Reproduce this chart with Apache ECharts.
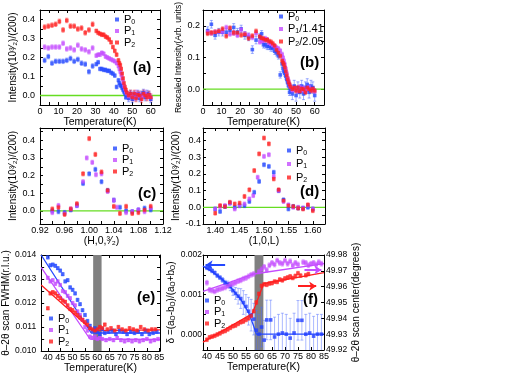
<!DOCTYPE html>
<html><head><meta charset="utf-8">
<script src="https://cdn.jsdelivr.net/npm/echarts@6/dist/echarts.min.js"></script>
<style>html,body{margin:0;padding:0;background:#fff}#c{width:512px;height:376px}</style>
</head><body><div id="c"></div>
<script>
const FONT = "'Liberation Sans',Arial,sans-serif";
const BLUE = '#2448ff', VIOLET = '#c44cff', RED = '#ff1f1f', GREEN = '#66dd22';

// ---------- panel (a) / (b): intensity vs temperature ----------
const aT = [2.5,4.5,6.5,8.5,10.5,12.5,14.5,16.5,18.5,20.5,22.5,24.5,26.5,28.5,
  30.5,31.5,32.5,33.5,34.5,35.5,36.5,37.5,38.5,39.5,40.5,41.5,42.5,
  43,43.5,44,44.5,45,45.5,46,46.5,47,
  48,49,50,51,52,53,54,55,56,57,58,59,60];
const aP0 = [0.185,0.205,0.17,0.18,0.18,0.18,0.185,0.195,0.18,0.19,0.17,0.165,0.125,0.155,
  0.165,0.175,0.14,0.14,0.135,0.135,0.13,0.13,0.12,0.115,0.105,0.045,0.08,
  0.065,0.055,0.05,0.04,0.03,0.02,0.01,-0.01,0.0,
  -0.015,0.01,-0.02,0.005,-0.01,0.01,-0.015,0.005,0.015,-0.01,0.01,0.005,-0.02];
const aP1 = [0.255,0.25,0.255,0.255,0.255,0.275,0.245,0.25,0.24,0.265,0.245,0.24,0.23,0.25,
  0.21,0.215,0.215,0.225,0.22,0.205,0.2,0.195,0.19,0.185,0.18,0.17,0.155,
  0.14,0.125,0.11,0.09,0.07,0.05,0.035,0.02,0.01,
  -0.005,0.005,0.0,-0.01,0.01,-0.005,0.005,-0.01,0.0,0.01,-0.005,0.0,-0.01];
const aP2 = [0.36,0.365,0.37,0.375,0.39,0.345,0.395,0.365,0.365,0.35,0.355,0.33,0.345,0.375,
  0.34,0.33,0.325,0.32,0.32,0.31,0.305,0.295,0.28,0.255,0.235,0.215,0.185,
  0.17,0.16,0.14,0.115,0.09,0.065,0.045,0.03,0.015,
  0.0,0.01,-0.01,0.01,-0.015,0.005,0.0,-0.02,0.01,0.0,-0.01,0.005,-0.01];
const aErr = [0.012,0.012,0.012,0.012,0.012,0.012,0.012,0.012,0.012,0.012,0.012,0.012,0.012,0.012,
  0.01,0.01,0.01,0.01,0.01,0.01,0.01,0.01,0.01,0.01,0.01,0.01,0.01,
  0.01,0.01,0.01,0.01,0.01,0.01,0.01,0.01,0.01,
  0.018,0.018,0.018,0.018,0.018,0.018,0.018,0.018,0.018,0.018,0.018,0.018,0.018];
const bP1 = [0.181,0.177,0.181,0.181,0.181,0.195,0.174,0.177,0.170,0.188,0.174,0.170,0.163,0.177,
  0.149,0.152,0.152,0.160,0.156,0.145,0.142,0.138,0.135,0.131,0.128,0.121,0.110,
  0.099,0.089,0.078,0.064,0.050,0.035,0.025,0.014,0.007,
  -0.004,0.004,0.0,-0.007,0.007,-0.004,0.004,-0.007,0.0,0.007,-0.004,0.0,-0.007];
const bP2 = [0.176,0.178,0.180,0.183,0.190,0.168,0.193,0.178,0.178,0.171,0.173,0.161,0.168,0.183,
  0.166,0.161,0.159,0.156,0.156,0.151,0.149,0.144,0.137,0.124,0.115,0.105,0.090,
  0.083,0.078,0.068,0.056,0.044,0.032,0.022,0.015,0.007,
  0.0,0.005,-0.005,0.005,-0.007,0.002,0.0,-0.01,0.005,0.0,-0.005,0.002,-0.005];
const bErr = 0.007;

// ---------- panel (c): (H,0,3/2) scan ----------
const cP0 = [[0.94,0.0],[0.95,-0.005],[0.96,-0.01],[0.97,0.005],[0.98,0.03],[0.99,0.155],[1.00,0.21],[1.01,0.235],[1.02,0.165],[1.03,0.115],[1.04,0.06],[1.05,0.02],[1.06,0.0],[1.07,-0.005],[1.08,0.005],[1.09,0.015],[1.10,0.005]];
const cP1 = [[0.94,-0.01],[0.95,0.03],[0.96,-0.015],[0.97,0.01],[0.98,0.03],[0.99,0.165],[0.996,0.30],[1.005,0.275],[1.011,0.205],[1.02,0.21],[1.03,0.11],[1.04,0.06],[1.045,0.02],[1.06,-0.01],[1.07,-0.005],[1.08,0.005],[1.09,-0.005],[1.10,0.015]];
const cP2 = [[0.94,0.01],[0.95,0.02],[0.96,-0.02],[0.97,0.01],[0.98,0.04],[0.99,0.21],[1.00,0.41],[1.01,0.32],[1.02,0.22],[1.03,0.115],[1.04,0.025],[1.05,-0.015],[1.06,0.025],[1.07,-0.015],[1.08,-0.01],[1.09,0.005],[1.10,0.025]];
const cErr = 0.012;

// ---------- panel (d): (1,0,L) scan ----------
const dP0 = [[1.40,-0.01],[1.41,-0.025],[1.42,0.005],[1.43,0.025],[1.44,0.0],[1.45,0.01],[1.46,0.01],[1.47,0.035],[1.48,0.09],[1.49,0.155],[1.50,0.255],[1.51,0.245],[1.52,0.21],[1.53,0.1],[1.54,0.045],[1.55,-0.01],[1.56,0.005],[1.57,-0.005],[1.58,-0.005],[1.59,0.0],[1.60,-0.01]];
const dP1 = [[1.40,-0.01],[1.41,0.005],[1.42,0.01],[1.43,0.025],[1.44,-0.01],[1.45,0.01],[1.46,0.02],[1.47,0.05],[1.478,0.07],[1.487,0.18],[1.50,0.305],[1.51,0.315],[1.52,0.185],[1.53,0.1],[1.54,0.035],[1.55,0.015],[1.56,0.0],[1.57,0.0],[1.58,-0.005],[1.59,0.01],[1.60,-0.01]];
const dP2 = [[1.40,-0.035],[1.41,0.01],[1.42,0.005],[1.43,0.03],[1.44,0.02],[1.45,0.025],[1.46,0.065],[1.47,0.105],[1.48,0.22],[1.49,0.32],[1.50,0.415],[1.51,0.38],[1.52,0.17],[1.53,0.105],[1.54,0.04],[1.55,0.01],[1.56,0.005],[1.57,-0.005],[1.58,-0.01],[1.59,0.015],[1.60,-0.02]];
const dErr = 0.012;

// ---------- panel (e): theta-2theta FWHM ----------
const eP0 = [[40,0.0139],[41,0.01357],[42,0.0136],[43,0.01355],[44,0.01345],[45,0.01335],[46,0.0132],[47,0.0129],[48,0.01295],[49,0.01265],[50,0.01255],[51,0.0124],[52,0.01213],[53,0.01195],[54,0.0117],[55,0.0115],[56,0.01125],[57,0.01105],[58,0.01085],[59,0.01095],[60,0.0108],[61,0.0107],[62,0.0109],[63,0.01075],[64.5,0.0108],[66,0.01085],[67.5,0.0107],[69,0.01085],[70.5,0.0108],[72,0.0107],[73.5,0.0108],[75,0.01075],[76.5,0.0108],[78,0.0107],[79.5,0.01085],[81,0.0107],[82.5,0.01075],[84,0.0108]];
const eP1 = [[40,0.01305],[41,0.0129],[42,0.01295],[43,0.0128],[44,0.0129],[45,0.01275],[46,0.0125],[47,0.01245],[48,0.0123],[49,0.0122],[50,0.012],[51,0.0119],[52,0.01165],[53,0.0115],[54,0.0113],[55,0.011],[56,0.01085],[57,0.0106],[58,0.01055],[59,0.0106],[60,0.0105],[61,0.01055],[62,0.0105],[63.5,0.01045],[65,0.0105],[66.5,0.01045],[68,0.01055],[69.5,0.01045],[71,0.0104],[72.5,0.01045],[74,0.0104],[75.5,0.01045],[77,0.0104],[78.5,0.01045],[80,0.0105],[81.5,0.0104],[83,0.01045],[84.5,0.0105]];
const eP2 = [[40,0.01178],[41,0.0124],[42,0.01245],[43,0.0124],[44,0.0123],[45,0.0122],[46,0.0121],[47,0.01205],[48,0.0119],[49,0.01175],[50,0.0117],[51,0.0116],[52,0.0115],[53,0.0114],[54,0.0113],[55,0.0112],[56,0.0111],[57,0.01095],[58,0.0109],[59,0.01085],[60,0.0109],[61,0.011],[62,0.01095],[63,0.0111],[64,0.0109],[65.5,0.01095],[67,0.01085],[68.5,0.011],[70,0.0109],[71.5,0.01085],[73,0.01095],[74.5,0.0109],[76,0.01085],[77.5,0.011],[79,0.0109],[80.5,0.01085],[82,0.0109],[83.5,0.0109]];
const eErr = 0.00007;
const eFit0 = [[37.3,0.0140],[57.5,0.01075],[85.3,0.01075]];
const eFit1 = [[37.3,0.01348],[57,0.0105],[85.3,0.01048]];
const eFit2 = [[37.3,0.01275],[58,0.01085],[85.3,0.01088]];
const tcBand = [58.3, 61.7];

// ---------- panel (f): orthorhombicity & peak centre ----------
const fP0 = [[40,0.00168,0.00005],[41,0.00165,0.00005],[42,0.0016,0.00005],[43,0.00155,0.00005],[44,0.00148,0.00005],[45,0.00143,0.00005],[46,0.00137,0.00006],[47,0.0013,0.00006],[48,0.00126,0.00008],[49,0.0012,0.0001],[50,0.0011,0.00012],[51,0.00103,0.00015],[52,0.00096,0.0002],[53,0.0009,0.00025],[54,0.0008,0.0003],[55,0.0007,0.0003],[56,0.00058,0.00035],[57,0.00048,0.0004],[58,0.00038,0.0004],[59,0.0001,0.0005],[60,0.0,0.0005],[61,0.00018,0.0005],[62,-0.00015,0.0005],[63,0.00036,0.0005],[64.5,0.00036,0.0005],[66,-0.00007,0.0005],[67.5,0.0,0.0005],[69,0.00003,0.0005],[70.5,0.0,0.0005],[72,-0.0001,0.0005],[73.5,0.00003,0.0005],[75,0.00035,0.0005],[76.5,0.00035,0.0005],[78,0.0,0.0005],[79.5,0.00003,0.0005],[81,-0.00005,0.0005],[82.5,0.0,0.0005],[84,0.0,0.0005]];
const fP1 = [[40,49.9625],[41,49.958],[42,49.9575],[43,49.957],[44,49.958],[45,49.9585],[46,49.959],[47,49.9595],[48,49.9605],[49,49.961],[50,49.962],[51,49.9625],[52,49.9635],[53,49.964],[54,49.965],[55,49.9655],[56,49.9665],[57,49.9675],[58,49.968],[60,49.9695],[61,49.971],[62,49.9725],[63,49.9705],[64,49.9735],[65,49.975],[66,49.974],[67,49.9765],[68,49.975],[69,49.9745],[70,49.9765],[71,49.9745],[72,49.976],[73,49.9735],[74,49.975],[75,49.974],[77,49.9755],[78,49.975],[79,49.9735],[80,49.9745],[81,49.975],[82,49.974],[83,49.9755],[84,49.9745]];
const fP2 = [[40,49.9265],[41,49.928],[42,49.9285],[43,49.929],[44,49.9298],[45,49.9305],[46,49.9315],[47,49.932],[48,49.933],[49,49.934],[50,49.935],[51,49.9355],[52,49.9365],[53,49.9375],[54,49.938],[55,49.939],[56,49.94],[57,49.9415],[58,49.9445],[59,49.95],[60,49.9555],[61,49.9605],[62,49.9615],[63,49.9612],[64,49.962],[65,49.9622],[66,49.9632],[67,49.963],[68,49.9645],[69,49.964],[70,49.9652],[71,49.9658],[72,49.9665],[73,49.9655],[74,49.9668],[75,49.9685],[76,49.967],[78,49.9672],[79,49.968]];
const fErr1 = 0.0015, fErr2 = 0.0012;
const fFit0 = [[38.5,0.00172],[42,0.00158],[46,0.00138],[50,0.00112],[53,0.00088],[56,0.00055],[58,0.0002],[59,0.0],[85,0.0]];
const fFit1 = [[38.5,49.957],[58,49.968],[85,49.9745]];
const fFit2 = [[38.5,49.925],[57.5,49.943],[61.8,49.962],[85,49.9688]];
const fArrow0 = [[47,0.00175],[39.5,0.00175]];
const fArrow1 = [[77.5,49.9706],[84,49.9706]];
const fArrow2 = [[75,49.9603],[82,49.9603]];

// ---------- tick positions ----------
const tA_x = [0,10,20,30,40,50,60], tA_xm = [0,5,10,15,20,25,30,35,40,45,50,55,60,65];
const tA_y = [0.0,0.1,0.2,0.3,0.4], tA_ym = [-0.05,0,0.05,0.1,0.15,0.2,0.25,0.3,0.35,0.4,0.45];
const tB_y = [0.0,0.1,0.2], tB_ym = [-0.05,0,0.05,0.1,0.15,0.2,0.25];
const tC_x = [0.92,0.96,1.00,1.04,1.08,1.12], tC_xm = [0.92,0.94,0.96,0.98,1.00,1.02,1.04,1.06,1.08,1.10,1.12];
const tD_x = [1.40,1.45,1.50,1.55,1.60], tD_xm = [1.375,1.40,1.425,1.45,1.475,1.50,1.525,1.55,1.575,1.60,1.625];
const tD_y = [-0.1,0.0,0.1,0.2,0.3,0.4], tD_ym = [-0.1,-0.05,0,0.05,0.1,0.15,0.2,0.25,0.3,0.35,0.4,0.45];
const tE_x = [40,45,50,55,60,65,70,75,80,85];
const tE_y = [0.010,0.011,0.012,0.013,0.014], tE_ym = [0.010,0.0105,0.011,0.0115,0.012,0.0125,0.013,0.0135,0.014];
const tF_yl = [0.000,0.001,0.002], tF_ylm = [0,0.0005,0.001,0.0015,0.002];
const tF_yr = [49.92,49.93,49.94,49.95,49.96,49.97,49.98];

const grids = [
  {left:40, top:10, width:120, height:95},
  {left:203, top:10, width:121, height:95},
  {left:40, top:128, width:123, height:96},
  {left:203, top:128, width:122, height:96},
  {left:39, top:255, width:121, height:96},
  {left:203, top:255, width:121, height:95}
];

function axis(gi, pos, min, max, ticks, labels, dec, name, gap, extra, lab) {
  const o = {
    type:'value', gridIndex:gi, position:pos, min:min, max:max,
    splitLine:{show:false},
    axisLine:{show:true, onZero:false, lineStyle:{color:'#000', width:1}},
    axisTick:{show:true, inside:true, length:3, customValues:ticks, lineStyle:{color:'#000', width:1}},
    axisLabel:Object.assign({show:!!labels, customValues:labels || undefined, formatter:v=>v.toFixed(dec),
      fontSize:9, fontFamily:FONT, color:'#000', margin:2}, lab || {}),
    name:name || '', nameLocation:'middle', nameGap:gap || 0,
    nameTextStyle:{fontSize:10.5, fontFamily:FONT, color:'#000'}
  };
  return Object.assign(o, extra || {});
}
const yName = 'Intensity(10\u00B3\u2044\u2082)/(200)';
const yNameStyle = {nameRotate:90, nameTextStyle:{fontSize:10, fontFamily:FONT, color:'#000'}};
const xAxes = [
  axis(0,'bottom',0,65,tA_xm,tA_x,0,'Temperature(K)',11),
  axis(1,'bottom',0,65,tA_xm,tA_x,0,'Temperature(K)',11),
  axis(2,'bottom',0.92,1.12,tC_xm,tC_x,2,'(H,0,\u00B3\u2044\u2082)',12),
  axis(3,'bottom',1.375,1.625,tD_xm,tD_x,2,'(1,0,L)',12),
  axis(4,'bottom',37.3,85.3,tE_x,tE_x,0,'Temperature(K)',11),
  axis(5,'bottom',38.5,85,tE_x,tE_x,0,'Temperature(K)',11),
  axis(0,'top',0,65,tA_xm,null,0),
  axis(1,'top',0,65,tA_xm,null,0),
  axis(2,'top',0.92,1.12,tC_xm,null,0),
  axis(3,'top',1.375,1.625,tD_xm,null,0),
  axis(4,'top',37.3,85.3,tE_x,null,0),
  axis(5,'top',38.5,85,tE_x,null,0)
];
const yAxes = [
  axis(0,'left',-0.05,0.45,tA_ym,tA_y,1,yName,20,yNameStyle,{margin:5}),
  axis(1,'left',-0.05,0.25,tB_ym,tB_y,1,'Rescaled Intensity(Arb. units)',18,
    {nameRotate:90, nameTextStyle:{fontSize:8.5,fontFamily:FONT,color:'#000'}},{margin:3}),
  axis(2,'left',-0.075,0.47,tA_ym,tA_y,1,yName,20,yNameStyle,{margin:5}),
  axis(3,'left',-0.1,0.475,tD_ym,tD_y,1,yName,18,yNameStyle,{margin:2}),
  axis(4,'left',0.010,0.014,tE_ym,tE_y,3,'\u03B8\u20132\u03B8 scan FWHM(r.l.u.)',27,
    {nameRotate:90, nameTextStyle:{fontSize:10,fontFamily:FONT,color:'#000'}},{margin:5, fontSize:8.5}),
  axis(5,'left',-0.0004,0.002,tF_ylm,tF_yl,3,'{t|\u03B4 =(a}{s|O}{t|-b}{s|O}{t|)/(a}{s|O}{t|+b}{s|O}{t|)}',19,{nameRotate:90,
    nameTextStyle:{fontSize:10,fontFamily:FONT,color:'#000',rich:{t:{fontSize:10,fontFamily:FONT,color:'#000'},s:{fontSize:6.5,fontFamily:FONT,color:'#000',padding:[4,0,0,0]}}}},{margin:1, fontSize:8.5}),
  axis(0,'right',-0.05,0.45,tA_ym,null,0),
  axis(1,'right',-0.05,0.25,tB_ym,null,0),
  axis(2,'right',-0.075,0.47,tA_ym,null,0),
  axis(3,'right',-0.1,0.475,tD_ym,null,0),
  axis(4,'right',0.010,0.014,tE_ym,null,0),
  axis(5,'right',49.92,49.98,tF_yr,tF_yr,2,'\u03B8\u20132\u03B8 scan center(degrees)',22,
    {nameRotate:90, nameTextStyle:{fontSize:10,fontFamily:FONT,color:'#000'}},{margin:2, fontSize:8.5})
];

function errRender(color, lw) {
  return function (params, api) {
    const x = api.value(0), y = api.value(1), e = api.value(2);
    const lo = api.coord([x, y - e]), hi = api.coord([x, y + e]);
    const st = {stroke:color, lineWidth:lw || 0.8};
    return {type:'group', children:[
      {type:'line', shape:{x1:lo[0], y1:lo[1], x2:hi[0], y2:hi[1]}, style:st},
      {type:'line', shape:{x1:lo[0]-1.5, y1:lo[1], x2:lo[0]+1.5, y2:lo[1]}, style:st},
      {type:'line', shape:{x1:hi[0]-1.5, y1:hi[1], x2:hi[0]+1.5, y2:hi[1]}, style:st}
    ]};
  };
}
function pts(name, xi, yi, data3, color, ecolor, extra) {
  return [
    {type:'custom', name:'err', xAxisIndex:xi, yAxisIndex:yi, data:data3, clip:true,
      encode:{x:0, y:1}, renderItem:errRender(ecolor), z:2, silent:true},
    Object.assign({type:'scatter', name:name, xAxisIndex:xi, yAxisIndex:yi,
      data:data3.map(d => [d[0], d[1]]), symbol:'rect', symbolSize:3.6,
      itemStyle:{color:color}, z:3, silent:true}, extra || {})
  ];
}
function fit(xi, yi, data, color) {
  return {type:'line', name:'fit', xAxisIndex:xi, yAxisIndex:yi, data:data, symbol:'none',
    lineStyle:{color:color, width:1.3}, z:2, silent:true};
}
// green zero reference line drawn as its own line series across the full x-range
function zeroSeries(gi, xmin, xmax) {
  return {type:'line', name:'zero', xAxisIndex:gi, yAxisIndex:gi, data:[[xmin,0],[xmax,0]], symbol:'none',
    lineStyle:{color:GREEN, width:1.3}, z:1, silent:true};
}
const band = () => ({silent:true, itemStyle:{color:'#808080'}, data:[[{xAxis:tcBand[0]},{xAxis:tcBand[1]}]]});
function arrow(a, color) {
  return {silent:true, symbol:['none','arrow'], symbolSize:7, label:{show:false},
    lineStyle:{color:color, width:2, type:'solid'},
    data:[[{coord:a[0]},{coord:a[1]}]]};
}
const tri = (vals, errs) => aT.map((t, i) => [t, vals[i], Array.isArray(errs) ? errs[i] : errs]);
const withErr = (arr, e) => arr.map(p => [p[0], p[1], e]);

const EB = 'rgba(36,72,255,0.55)', EV = 'rgba(196,76,255,0.6)', ER = 'rgba(255,31,31,0.6)';
const series = [].concat(
  [zeroSeries(0,0,65), zeroSeries(1,0,65), zeroSeries(2,0.92,1.12), zeroSeries(3,1.375,1.625)],
  pts('P0',0,0,tri(aP0,aErr),BLUE,EB),
  pts('P1',0,0,tri(aP1,aErr),VIOLET,EV),
  pts('P2',0,0,tri(aP2,aErr),RED,ER),
  pts('P0',1,1,tri(aP0,aErr),BLUE,EB),
  pts('P1/1.41',1,1,tri(bP1,bErr),VIOLET,EV),
  pts('P2/2.05',1,1,tri(bP2,bErr),RED,ER),
  pts('P0',2,2,withErr(cP0,cErr),BLUE,EB),
  pts('P1',2,2,withErr(cP1,cErr),VIOLET,EV),
  pts('P2',2,2,withErr(cP2,cErr),RED,ER),
  pts('P0',3,3,withErr(dP0,dErr),BLUE,EB),
  pts('P1',3,3,withErr(dP1,dErr),VIOLET,EV),
  pts('P2',3,3,withErr(dP2,dErr),RED,ER),
  [fit(4,4,eFit0,BLUE), fit(4,4,eFit1,VIOLET), fit(4,4,eFit2,RED)],
  pts('P0',4,4,withErr(eP0,eErr),BLUE,EB,{markArea:band()}),
  pts('P1',4,4,withErr(eP1,eErr),VIOLET,EV),
  pts('P2',4,4,withErr(eP2,eErr),RED,ER),
  [fit(5,5,fFit0,BLUE), fit(5,11,fFit1,VIOLET), fit(5,11,fFit2,RED)],
  pts('P0',5,5,fP0,'#1f3cff','rgba(80,110,255,0.6)',{markArea:band(), markLine:arrow(fArrow0,BLUE)}),
  pts('P1',5,11,withErr(fP1,fErr1),VIOLET,EV,{markLine:arrow(fArrow1,VIOLET)}),
  pts('P2',5,11,withErr(fP2,fErr2),RED,ER,{markLine:arrow(fArrow2,RED)})
);

function leg(names, left, top, gap) {
  return {orient:'vertical', left:left, top:top, data:names, icon:'rect', itemWidth:4, itemHeight:4,
    itemGap:gap, padding:0, selectedMode:false,
    formatter:n => n.replace(/^P(\d)(.*)$/, (m, d, r) => '{p|P}{s|' + d + '}' + (r ? '{p|' + r + '}' : '')),
    textStyle:{fontFamily:FONT, color:'#000', fontSize:11,
      rich:{p:{fontSize:11, fontFamily:FONT, color:'#000', lineHeight:12}, s:{fontSize:7, fontFamily:FONT, color:'#000', padding:[5,0,0,0]}}}};
}
const panelLabels = [['(a)',133,60],['(b)',300,55],['(c)',138,186],['(d)',300,184],['(e)',137,290],['(f)',303,292]];

const chart = echarts.init(document.getElementById('c'), null, {renderer:'canvas'});
chart.setOption({
  animation:false,
  backgroundColor:'#fff',
  grid:grids,
  xAxis:xAxes,
  yAxis:yAxes,
  legend:[
    leg(['P0','P1','P2'],115,14,0),
    leg(['P0','P1/1.41','P2/2.05'],279,11,1),
    leg(['P0','P1','P2'],113,143,0),
    leg(['P0','P1','P2'],287,145,2),
    leg(['P0','P1','P2'],49,313,0),
    leg(['P0','P1','P2'],205,295,0)
  ],
  graphic:panelLabels.map(p => ({type:'text', left:p[1], top:p[2], z:10,
    style:{text:p[0], font:'bold 15px ' + FONT, fill:'#000'}})),
  series:series
});
</script></body></html>
